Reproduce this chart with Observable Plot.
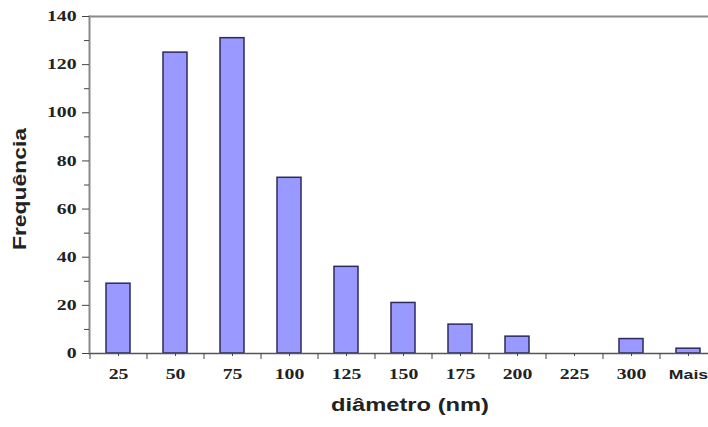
<!DOCTYPE html>
<html><head><meta charset="utf-8">
<script src="https://cdn.jsdelivr.net/npm/d3@7"></script>
<script src="https://cdn.jsdelivr.net/npm/@observablehq/plot@0.6"></script>
<style>body{margin:0;background:#fff}</style>
</head><body><div id="chart"></div>
<script>
const categories = ["25","50","75","100","125","150","175","200","225","300","Mais"];
const frequencies = [29, 125, 131, 73, 36, 21, 12, 7, 0, 6, 2];
const yMajorTicks = [0,20,40,60,80,100,120,140];
const yMinorTicks = [10,30,50,70,90,110,130];
const xTitle = "diâmetro (nm)";
const yTitle = "Frequência";

const data = categories.map((c,i)=>({cat:c, freq:frequencies[i]}));
const numeric = categories.filter(c=>c!=="Mais");
const textual = categories.filter(c=>c==="Mais");

const chart = Plot.plot({
  width: 708, height: 427,
  marginLeft: 89, marginTop: 16, marginBottom: 74, marginRight: 0,
  style: {background:"#fff", overflow:"visible"},
  x: {domain: categories, range: [89, 716], paddingInner: 0.58, paddingOuter: 0.29, axis: null},
  y: {domain: [0, 140], axis: null},
  marks: [
    Plot.barY(data, {x:"cat", y:"freq", fill:"#9999ff", stroke:"#2b2b5e", strokeWidth:1.5}),
    Plot.ruleY([140], {stroke:"#8a8a8a", strokeWidth:2}),
    Plot.ruleY([0], {stroke:"#555", strokeWidth:1.5}),
    Plot.frame({anchor:"left", stroke:"#8a8a8a", strokeWidth:2}),
    Plot.axisY(yMajorTicks, {tickSize:7, tickPadding:6, stroke:"#444", fontFamily:"Liberation Serif", fontWeight:"bold", fontSize:14.5, fill:"#222", label:null}),
    Plot.axisY(yMinorTicks, {tickSize:5, tickFormat:()=>"", stroke:"#444", label:null}),
    Plot.axisX(categories, {tickSize:6, tickFormat:()=>"", dx:-28.5, stroke:"#444", label:null}),
    Plot.axisX(categories, {tickSize:3, tickFormat:()=>"", stroke:"#444", label:null}),
    Plot.text(numeric, {x:d=>d, frameAnchor:"bottom", dy:25, fontFamily:"Liberation Serif", fontWeight:"bold", fontSize:14.5, fill:"#222"}),
    Plot.text(textual, {x:d=>d, frameAnchor:"bottom", dy:25, fontFamily:"Liberation Sans", fontWeight:"bold", fontSize:13, fill:"#222"}),
    Plot.text([xTitle], {frameAnchor:"bottom", dx:11, dy:57, fontFamily:"Liberation Sans", fontWeight:"bold", fontSize:17.5, fill:"#222"}),
    Plot.text([yTitle], {frameAnchor:"left", textAnchor:"middle", rotate:-90, dx:-69, dy:4, fontFamily:"Liberation Sans", fontWeight:"bold", fontSize:17.5, fill:"#222"})
  ]
});
document.getElementById("chart").append(chart);
// the reference's lettering is horizontally stretched; widen glyphs to match
chart.querySelectorAll("text").forEach(t => {
  const s = t.textContent;
  const len = t.getComputedTextLength();
  if (!len) return;
  let target;
  if (s === xTitle) target = 158;
  else if (s === yTitle) target = 122;
  else target = len * 1.36;
  t.setAttribute("textLength", target);
  t.setAttribute("lengthAdjust", "spacingAndGlyphs");
});
</script></body></html>
